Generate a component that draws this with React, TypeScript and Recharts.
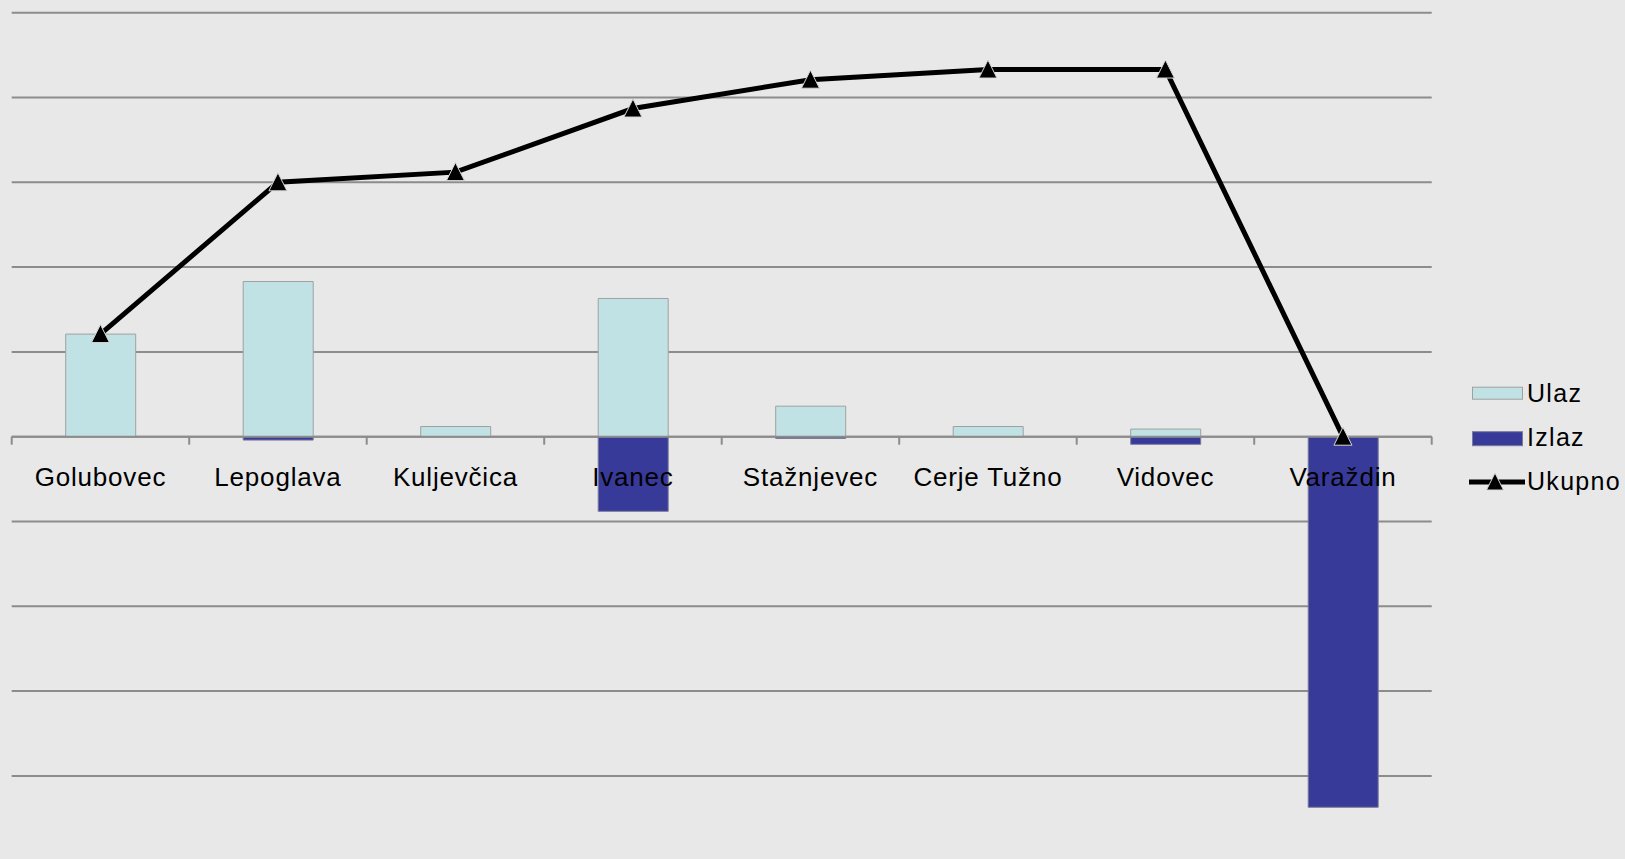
import React from 'react';
import {
  ComposedChart,
  Bar,
  Line,
  XAxis,
  YAxis,
  CartesianGrid,
  ReferenceLine,
} from 'recharts';

const categories = [
  'Golubovec',
  'Lepoglava',
  'Kuljevčica',
  'Ivanec',
  'Stažnjevec',
  'Cerje Tužno',
  'Vidovec',
  'Varaždin',
];
const ulaz = [1.21, 1.83, 0.12, 1.63, 0.36, 0.12, 0.09, 0];
const izlaz = [0, -0.04, 0, -0.88, -0.02, 0, -0.09, -4.37];
const ukupno = [1.21, 3.0, 3.12, 3.87, 4.21, 4.33, 4.33, 0];
const yTicks = [-5, -4, -3, -2, -1, 0, 1, 2, 3, 4, 5];
const yDomain = [-5, 5];

const legendItems = [
  { name: 'Ulaz', kind: 'bar', color: '#c0e2e4', stroke: '#a0a0a0' },
  { name: 'Izlaz', kind: 'bar', color: '#383a9a', stroke: '#7a7a9a' },
  { name: 'Ukupno', kind: 'line', color: '#000000', stroke: '#000000' },
];

const data = categories.map((c, i) => ({
  name: c,
  ulaz: ulaz[i],
  izlaz: izlaz[i],
  ukupno: ukupno[i],
}));

const FONT = '"Liberation Sans", Arial, sans-serif';
const GRID = '#8c8c8c';

const gridGenerator = (props: any) => {
  const yAxis = props && props.yAxis;
  if (yAxis && typeof yAxis.scale === 'function') {
    return yTicks.map((t) => yAxis.scale(t));
  }
  const off = props && props.offset;
  if (off) {
    const [lo, hi] = yDomain;
    return yTicks.map((t) => off.top + (off.height * (hi - t)) / (hi - lo));
  }
  return [];
};

const TriangleDot = (props: any) => {
  const { cx, cy, index } = props;
  if (cx == null || cy == null) return <g key={index} />;
  return (
    <path
      key={index}
      d={`M${cx},${cy - 9.5} L${cx + 9},${cy + 8.5} L${cx - 9},${cy + 8.5} Z`}
      fill="#000"
      stroke="#d8d8d8"
      strokeWidth={1}
    />
  );
};

const ZeroAxis = (props: any) => {
  const { x1, x2, y1 } = props;
  if (x1 == null || x2 == null || y1 == null) return <g />;
  const n = categories.length;
  const step = (x2 - x1) / n;
  const ticks = [];
  for (let i = 0; i <= n; i++) {
    const x = x1 + i * step;
    ticks.push(
      <line key={'t' + i} x1={x} x2={x} y1={y1} y2={y1 + 8} stroke={GRID} strokeWidth={2} />
    );
  }
  return (
    <g>
      <line x1={x1} x2={x2} y1={y1} y2={y1} stroke={GRID} strokeWidth={2} />
      {ticks}
      {categories.map((c, i) => (
        <text
          key={'l' + i}
          x={x1 + (i + 0.5) * step}
          y={y1 + 49}
          textAnchor="middle"
          fontSize={26}
          letterSpacing={0.8}
          fontFamily={FONT}
          fill="#000"
        >
          {c}
        </text>
      ))}
    </g>
  );
};

const LegendOverlay = () => {
  const baseY = [401.7, 446.2, 490];
  return (
    <svg
      width={1625}
      height={859}
      style={{ position: 'absolute', left: 0, top: 0, pointerEvents: 'none' }}
    >
      {legendItems.map((it, i) => {
        const by = baseY[i];
        const cy = by - 8;
        return (
          <g key={it.name}>
            {it.kind === 'bar' ? (
              <rect
                x={1472.5}
                y={cy - 6.5}
                width={50}
                height={i === 0 ? 12 : 14}
                fill={it.color}
                stroke={it.stroke}
                strokeWidth={1}
              />
            ) : (
              <g>
                <line x1={1469} x2={1525} y1={cy} y2={cy} stroke="#000" strokeWidth={5} />
                <path
                  d={`M1495,${cy - 9} L1503.5,${cy + 8} L1486.5,${cy + 8} Z`}
                  fill="#000"
                  stroke="#d8d8d8"
                  strokeWidth={1}
                />
              </g>
            )}
            <text
              x={1527}
              y={by}
              fontSize={25}
              letterSpacing={1.3}
              fontFamily={FONT}
              fill="#000"
            >
              {it.name}
            </text>
          </g>
        );
      })}
    </svg>
  );
};

export default function App() {
  return (
    <div
      style={{
        position: 'fixed',
        left: 0,
        top: 0,
        width: 1625,
        height: 859,
        overflow: 'hidden',
        background: '#e8e8e8',
        fontFamily: FONT,
      }}
    >
      <ComposedChart
        width={1625}
        height={880}
        data={data}
        stackOffset="sign"
        margin={{ top: 12.7, left: 11.7, right: 193.3, bottom: 19.3 }}
      >
        <CartesianGrid
          vertical={false}
          stroke={GRID}
          strokeWidth={2}
          horizontalCoordinatesGenerator={gridGenerator}
        />
        <XAxis dataKey="name" hide />
        <YAxis
          domain={yDomain}
          ticks={yTicks}
          width={0}
          tick={false}
          axisLine={false}
          tickLine={false}
          allowDataOverflow
        />
        <Bar
          dataKey="ulaz"
          stackId="a"
          barSize={70}
          fill="#c0e2e4"
          stroke="#a0a0a0"
          strokeWidth={1}
          isAnimationActive={false}
        />
        <Bar
          dataKey="izlaz"
          stackId="a"
          barSize={70}
          fill="#383a9a"
          stroke="#7a7a9a"
          strokeWidth={1}
          isAnimationActive={false}
        />
        <ReferenceLine y={0} shape={<ZeroAxis />} />
        <Line
          dataKey="ukupno"
          stroke="#000"
          strokeWidth={5}
          dot={<TriangleDot />}
          activeDot={false}
          isAnimationActive={false}
        />
      </ComposedChart>
      <LegendOverlay />
    </div>
  );
}
